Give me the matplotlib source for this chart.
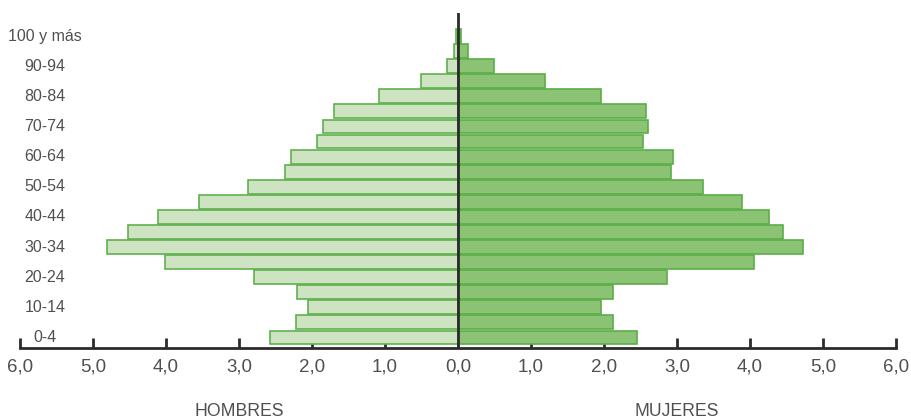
import matplotlib
matplotlib.use("Agg")
import matplotlib.pyplot as plt
import numpy as np

age_groups = ["0-4", "5-9", "10-14", "15-19", "20-24", "25-29", "30-34", "35-39",
              "40-44", "45-49", "50-54", "55-59", "60-64", "65-69", "70-74", "75-79",
              "80-84", "85-89", "90-94", "95-99", "100 y más"]
hombres = [2.57, 2.22, 2.05, 2.20, 2.80, 4.02, 4.81, 4.52, 4.11, 3.55, 2.88,
           2.37, 2.29, 1.93, 1.85, 1.70, 1.08, 0.51, 0.15, 0.05, 0.03]
mujeres = [2.45, 2.13, 1.96, 2.12, 2.86, 4.05, 4.72, 4.45, 4.26, 3.89, 3.35,
           2.92, 2.94, 2.53, 2.60, 2.58, 1.96, 1.19, 0.49, 0.14, 0.04]
xticks = [-6, -5, -4, -3, -2, -1, 0, 1, 2, 3, 4, 5, 6]
xtick_labels = ["6,0", "5,0", "4,0", "3,0", "2,0", "1,0", "0,0", "1,0", "2,0", "3,0", "4,0", "5,0", "6,0"]

plt.rcParams['font.family'] = ['Liberation Sans', 'DejaVu Sans']
text_color = "#505050"

fig = plt.figure(figsize=(9.11, 4.19), dpi=100)
ax = fig.add_axes([20/911, 1 - 348.3/419, 876/911, (348.3 - 12.7)/419])

y = np.arange(len(age_groups))
ax.barh(y, -np.array(hombres), height=0.92, color="#cde3c2", edgecolor="#5fb14e", linewidth=1.2, zorder=2)
ax.barh(y, mujeres, height=0.92, color="#8cc273", edgecolor="#5aae48", linewidth=1.2, zorder=2)

ax.set_xlim(-6, 6)
ax.set_ylim(-0.72, 21.55)
ax.axvline(0, color="#2b2b2b", linewidth=2, zorder=3)

for s in ["top", "right", "left"]:
    ax.spines[s].set_visible(False)
ax.spines["bottom"].set_color("#2b2b2b")
ax.spines["bottom"].set_linewidth(2)

ax.set_xticks(xticks)
ax.set_xticklabels(xtick_labels, fontsize=13.5, color=text_color)
ax.tick_params(axis="x", direction="in", length=7, width=2, color="#2b2b2b", pad=7)

ax.set_yticks([])
for i in range(0, len(age_groups), 2):
    ax.text(-5.66, y[i], age_groups[i], ha="center", va="center", fontsize=11.5,
            color=text_color)

ax.text(-3, -4.9, "HOMBRES", ha="center", va="center", fontsize=12.7, color=text_color,
        clip_on=False)
ax.text(3, -4.9, "MUJERES", ha="center", va="center", fontsize=12.7, color=text_color,
        clip_on=False)

fig.savefig("out.png", dpi=100)
